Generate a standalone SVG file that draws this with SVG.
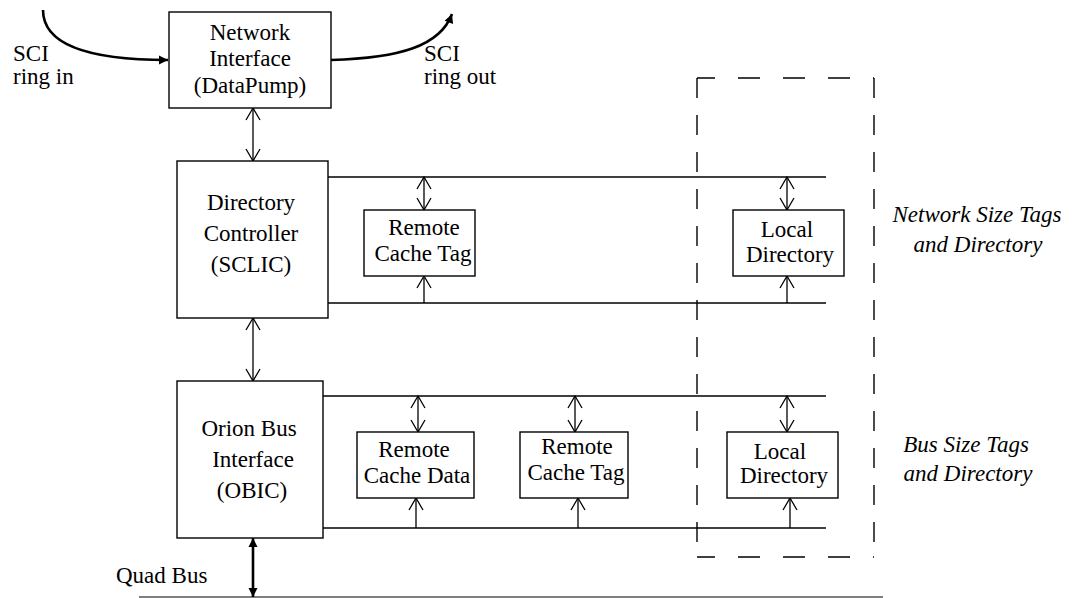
<svg xmlns="http://www.w3.org/2000/svg" width="1080" height="598" viewBox="0 0 1080 598">
<style>
  .box { fill: #ffffff; stroke: #000; stroke-width: 1.4; }
  .t { font-family: "Liberation Serif", "Times New Roman", serif; font-size: 23px; fill: #000; text-anchor: middle; }
  .ti { font-family: "Liberation Serif", "Times New Roman", serif; font-size: 23px; font-style: italic; fill: #000; text-anchor: middle; }
  .tl { font-family: "Liberation Serif", "Times New Roman", serif; font-size: 23px; fill: #000; }
  .ln { stroke: #000; stroke-width: 1.4; fill: none; }
  .bi { stroke: #000; stroke-width: 1.3; fill: none; marker-start: url(#open); marker-end: url(#open); }
  .up { stroke: #000; stroke-width: 1.3; fill: none; marker-end: url(#open); }
  .thick { stroke: #000; stroke-width: 2.6; fill: none; marker-end: url(#solid); }
  .dash { stroke: #000; stroke-width: 1.4; fill: none; }
</style>
<defs>
  <marker id="open" markerUnits="userSpaceOnUse" viewBox="-1 -9 15 18" refX="12" refY="0" markerWidth="15" markerHeight="18" orient="auto-start-reverse">
    <path d="M0,-7 L12,0 L0,7" fill="none" stroke="#000" stroke-width="1.3"/>
  </marker>
  <marker id="solid" markerUnits="userSpaceOnUse" viewBox="-1 -6 11 12" refX="9" refY="0" markerWidth="11" markerHeight="12" orient="auto-start-reverse">
    <path d="M0,-4.5 L9,0 L0,4.5 Z" fill="#000"/>
  </marker>
</defs>

<g id="connectors">
  <!-- SCI ring in / out -->
  <path class="thick" d="M43,10 C43,45 90,60 168,60"/>
  <path class="thick" d="M331,60 C400,58 440,46 452,14"/>
  <!-- NI <-> DC -->
  <line class="bi" x1="253" y1="108" x2="253" y2="161"/>
  <!-- DC <-> OBIC -->
  <line class="bi" x1="253" y1="318" x2="253" y2="381"/>
  <!-- Upper bus lines -->
  <line class="ln" x1="328" y1="177" x2="826" y2="177"/>
  <line class="ln" x1="328" y1="303" x2="826" y2="303"/>
  <!-- Lower bus lines -->
  <line class="ln" x1="323" y1="396" x2="826" y2="396"/>
  <line class="ln" x1="323" y1="528" x2="826" y2="528"/>
  <!-- Upper RCT -->
  <line class="bi" x1="424" y1="177" x2="424" y2="210"/>
  <line class="up" x1="424" y1="303" x2="424" y2="276"/>
  <!-- Upper LD -->
  <line class="bi" x1="787" y1="177" x2="787" y2="210"/>
  <line class="up" x1="787" y1="303" x2="787" y2="276"/>
  <!-- Lower RCD -->
  <line class="bi" x1="418" y1="396" x2="418" y2="432"/>
  <line class="up" x1="416" y1="528" x2="416" y2="498"/>
  <!-- Lower RCT -->
  <line class="bi" x1="575" y1="396" x2="575" y2="432"/>
  <line class="up" x1="578" y1="528" x2="578" y2="498"/>
  <!-- Lower LD -->
  <line class="bi" x1="787" y1="396" x2="787" y2="432"/>
  <line class="up" x1="790" y1="528" x2="790" y2="498"/>
  <!-- Quad bus -->
  <line x1="139" y1="597" x2="883" y2="597" stroke="#555" stroke-width="1.6"/>
  <line x1="253" y1="538" x2="253" y2="597" stroke="#000" stroke-width="2.6" marker-start="url(#solid)" marker-end="url(#solid)"/>
</g>

<g id="dashed-region">
  <line class="dash" x1="697" y1="78" x2="874" y2="78" stroke-dasharray="18 23 22 23 22 23 22 23 22"/>
  <line class="dash" x1="697" y1="557" x2="874" y2="557" stroke-dasharray="18 23 22 23 22 23 22 23 22"/>
  <line class="dash" x1="697" y1="78" x2="697" y2="557" stroke-dasharray="20 17"/>
  <line class="dash" x1="874" y1="78" x2="874" y2="557" stroke-dasharray="20 17"/>
</g>

<g id="network-interface">
  <rect class="box" x="169" y="12" width="162" height="96"/>
  <text class="t" x="250" y="40">Network</text>
  <text class="t" x="250" y="66">Interface</text>
  <text class="t" x="250" y="93">(DataPump)</text>
</g>

<g id="sci-in-label">
  <text class="tl" x="13" y="61">SCI</text>
  <text class="tl" x="13" y="84">ring in</text>
</g>
<g id="sci-out-label">
  <text class="tl" x="424" y="61">SCI</text>
  <text class="tl" x="424" y="84">ring out</text>
</g>

<g id="directory-controller">
  <rect class="box" x="177" y="161" width="151" height="157"/>
  <text class="t" x="251" y="210">Directory</text>
  <text class="t" x="251" y="241">Controller</text>
  <text class="t" x="251" y="272">(SCLIC)</text>
</g>

<g id="remote-cache-tag-upper">
  <rect class="box" x="364" y="210" width="111" height="66"/>
  <text class="t" x="424" y="235">Remote</text>
  <text class="t" x="423" y="261">Cache Tag</text>
</g>

<g id="local-directory-upper">
  <rect class="box" x="733" y="210" width="111" height="66"/>
  <text class="t" x="787" y="237">Local</text>
  <text class="t" x="790" y="262">Directory</text>
</g>

<g id="network-size-label">
  <text class="ti" x="977" y="222">Network Size Tags</text>
  <text class="ti" x="978" y="252">and Directory</text>
</g>

<g id="obic">
  <rect class="box" x="177" y="381" width="146" height="157"/>
  <text class="t" x="249" y="436">Orion Bus</text>
  <text class="t" x="253" y="467">Interface</text>
  <text class="t" x="252" y="498">(OBIC)</text>
</g>

<g id="remote-cache-data">
  <rect class="box" x="357" y="432" width="117" height="66"/>
  <text class="t" x="414" y="457">Remote</text>
  <text class="t" x="417" y="483">Cache Data</text>
</g>

<g id="remote-cache-tag-lower">
  <rect class="box" x="520" y="432" width="108" height="66"/>
  <text class="t" x="577" y="454">Remote</text>
  <text class="t" x="576" y="480">Cache Tag</text>
</g>

<g id="local-directory-lower">
  <rect class="box" x="727" y="432" width="111" height="66"/>
  <text class="t" x="780" y="459">Local</text>
  <text class="t" x="784" y="483">Directory</text>
</g>

<g id="bus-size-label">
  <text class="ti" x="966" y="452">Bus Size Tags</text>
  <text class="ti" x="968" y="481">and Directory</text>
</g>

<g id="quad-bus-label">
  <text class="tl" x="116" y="583">Quad Bus</text>
</g>
</svg>
